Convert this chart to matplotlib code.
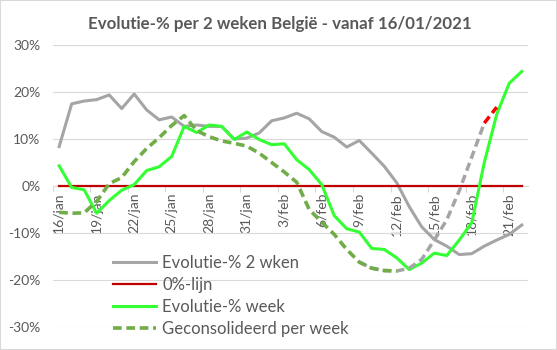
import matplotlib.pyplot as plt
from matplotlib.patches import Rectangle
import numpy as np

plt.rcParams['font.family'] = ['Lato', 'DejaVu Sans']

# days 16/jan .. 22/feb (one category per day)
days = ['16/jan', '17/jan', '18/jan', '19/jan', '20/jan', '21/jan', '22/jan', '23/jan',
        '24/jan', '25/jan', '26/jan', '27/jan', '28/jan', '29/jan', '30/jan', '31/jan',
        '1/feb', '2/feb', '3/feb', '4/feb', '5/feb', '6/feb', '7/feb', '8/feb', '9/feb',
        '10/feb', '11/feb', '12/feb', '13/feb', '14/feb', '15/feb', '16/feb', '17/feb',
        '18/feb', '19/feb', '20/feb', '21/feb', '22/feb']

# evolution in % over 2 weeks
evol_2wk = [8.4, 17.5, 18.1, 18.4, 19.4, 16.5, 19.6, 16.2, 14.1, 14.7, 12.7, 13.0, 12.7,
            12.7, 10.0, 10.2, 11.3, 13.9, 14.5, 15.5, 14.3, 11.6, 10.4, 8.3, 9.7, 7.0,
            4.2, 0.7, -4.4, -8.7, -11.4, -12.8, -14.6, -14.4, -12.8, -11.5, -10.3, -8.3]

# evolution in % per week
evol_week = [4.3, -0.3, -0.8, -5.8, -3.1, -0.9, 0.3, 3.3, 4.1, 6.3, 12.7, 11.4, 13.0,
             12.7, 9.9, 11.5, 9.9, 8.8, 9.0, 5.6, 3.5, 0.3, -6.3, -9.1, -9.8, -13.3,
             -13.5, -15.3, -17.8, -16.4, -14.3, -14.8, -11.5, -7.8, 5.0, 15.3, 21.9, 24.4]

# consolidated per week (from 16/jan), provisional tail (from 9/feb) and last step (from 19/feb)
cons_week = [-5.6, -5.8, -5.7, -3.3, 0.5, 1.8, 5.2, 8.0, 10.3, 12.9, 15.0, 11.8, 10.5,
             9.6, 9.1, 8.5, 7.0, 5.0, 3.0, 0.8, -5.0, -7.7, -10.3, -13.5, -16.2, -17.5,
             -18.0, -18.1]
cons_tail_start = 24
cons_tail = [-16.2, -17.5, -18.0, -18.1, -17.5, -15.6, -11.5, -7.2, -1.0, 6.2, 13.4]
cons_last_start = 34
cons_last = [13.4, 16.8]

zero_line = [0.0] * len(days)

txt = '#595959'
grid = '#D9D9D9'

fig = plt.figure(figsize=(5.57, 3.5), dpi=100)
ax = fig.add_axes([0.095, 0.066, 0.853, 0.805])

x = np.arange(len(days))
ax.plot(x, evol_2wk, color='#A5A5A5', lw=2.2, label='Evolutie-% 2 wken', zorder=3)
ax.plot(x, zero_line, color='#C00000', lw=1.6, label='0%-lijn', zorder=3)
ax.plot(x, evol_week, color='#33FF33', lw=2.2, label='Evolutie-% week', zorder=4)
xt = np.arange(cons_tail_start, cons_tail_start + len(cons_tail))
ax.plot(xt, cons_tail, color='#A5A5A5', lw=2.5, dashes=(2.4, 1.3), zorder=4)
ax.plot(np.arange(len(cons_week)), cons_week, color='#70AD47', lw=2.6, dashes=(2.4, 1.3),
        label='Geconsolideerd per week', zorder=5)
xl = np.arange(cons_last_start, cons_last_start + len(cons_last))
ax.plot(xl, cons_last, color='#FF0000', lw=2.5, dashes=(2.4, 1.3), zorder=6)

ax.set_xlim(-0.5, len(days) - 0.5)
ax.set_ylim(-30, 30)
ax.set_yticks(np.arange(-30, 31, 10))
ax.set_yticklabels([f'{v}%' for v in range(-30, 31, 10)])
ax.grid(axis='y', color=grid, lw=0.8, zorder=0)
ax.set_axisbelow(True)

for s in ['top', 'right', 'left']:
    ax.spines[s].set_visible(False)
ax.spines['bottom'].set_position(('data', 0))
ax.spines['bottom'].set_color(grid)

# tick marks on category boundaries, labels in the middle of the category
ax.set_xticks(np.arange(-0.5, len(days) - 1, 3))
ax.set_xticklabels([])
ax.set_xticks(np.arange(0, len(days), 3), minor=True)
ax.set_xticklabels(days[::3], minor=True, rotation=90)
ax.tick_params(axis='x', which='major', length=4, color=grid)
ax.tick_params(axis='x', which='minor', length=0, pad=5, labelsize=10, labelcolor=txt)
ax.tick_params(axis='y', length=0, pad=9, labelsize=10, labelcolor=txt)

fig.text(0.502, 0.932, 'Evolutie-% per 2 weken België - vanaf 16/01/2021',
         ha='center', va='center', fontsize=12.2, fontweight='bold', color=txt)

leg = ax.legend(loc='upper left', bbox_to_anchor=(0.203, 0.272),
                bbox_transform=fig.transFigure, frameon=False, fontsize=12,
                handlelength=2.6, handletextpad=0.35, labelspacing=0.37, borderpad=0,
                borderaxespad=0)
for t in leg.get_texts():
    t.set_color(txt)

fig.add_artist(Rectangle((0, 0), 1, 1, transform=fig.transFigure, fill=False,
                         edgecolor=grid, lw=1.5))

fig.savefig('out.png', dpi=100)
